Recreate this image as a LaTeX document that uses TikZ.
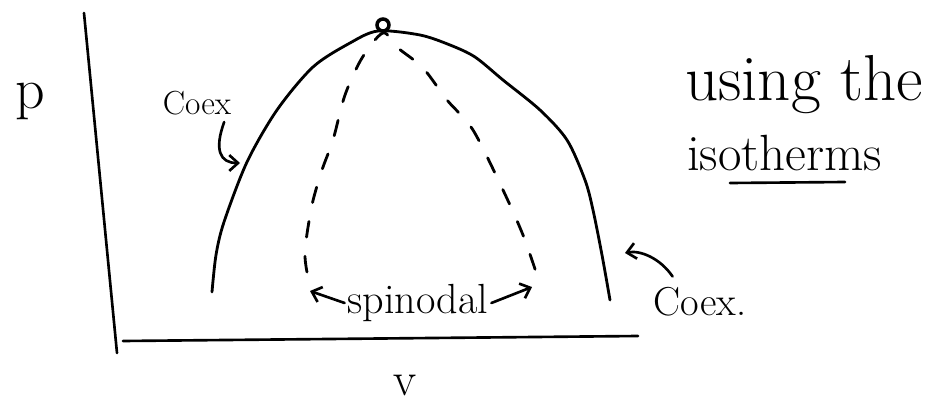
\documentclass[tikz,border=0pt]{standalone}
\usepackage{fontspec}
\usepackage{tikz}
\usetikzlibrary{calc, arrows.meta}

\begin{document}
\begin{tikzpicture}[x=0.02cm, y=-0.02cm, line width=1.5pt, line cap=round,
    curve/.style={line width=1.6pt},
    note/.style={inner sep=1pt},
    pointer/.style={-{Straight Barb[length=5pt, width=9pt]}}]
  \useasboundingbox (0,0) rectangle (938,409);

  \coordinate (Ptop) at (84,13);
  \coordinate (O)    at (117,353);
  \coordinate (Vend) at (638,336);
  \coordinate (Crit) at (383,25);

  % axes
  \draw (Ptop) -- (O);
  \draw (123,341) -- (Vend);
  \node (p) at (30,101) {\fontsize{33}{36}\selectfont p};
  \node (v) at (405,385) {\fontsize{27}{30}\selectfont v};

  % coexistence curve
  \draw[curve] plot[smooth] coordinates {(212,292) (216,255) (224,222) (247,162)
    (277,110) (313,67) (350,43) (378,31) (420,35) (450,45) (475,57) (503,80)
    (540,110) (567,140) (585,180) (593,210) (602,255) (610,300)};

  % spinodal
  \draw[curve, dash pattern=on 9pt off 11pt] plot[smooth] coordinates {(307,272)
    (305,250) (312,205) (322,170) (333,140) (345,95) (362,58) (383,33) (398,48)
    (423,68) (447,100) (473,130) (503,190) (523,235) (537,275)};

  \draw[line width=2pt, fill=white] (Crit) circle (6);

  \coordinate (cL) at (240,163);
  \coordinate (cR) at (625,253);
  \coordinate (sL) at (310,291);
  \coordinate (sR) at (532,287);

  \node[note] (coexL) at (197,103) {\fontsize{19}{22}\selectfont Coex};
  \node[note] (coexR) at (700,302) {\fontsize{23}{26}\selectfont Coex.};
  \node[note] (spin) at (418,303) {\fontsize{24}{28}\selectfont spinodal};

  \draw[pointer] ($(coexL.south east)+(-10,4)$) .. controls (214,150) and (220,163) .. (cL);
  \draw[pointer] ($(coexR.north west)+(22,-8)$) .. controls (660,258) and (640,250) .. (cR);
  \draw[pointer] (spin.west) -- (sL);
  \draw[pointer] (spin.east) -- (sR);

  \node[anchor=base west] (using) at (678,100) {\fontsize{37}{40}\selectfont using the};
  \node[anchor=base west] (iso) at (680,170) {\fontsize{29}{32}\selectfont isotherms};
  \draw (730,183) -- (845,182);
\end{tikzpicture}
\end{document}
